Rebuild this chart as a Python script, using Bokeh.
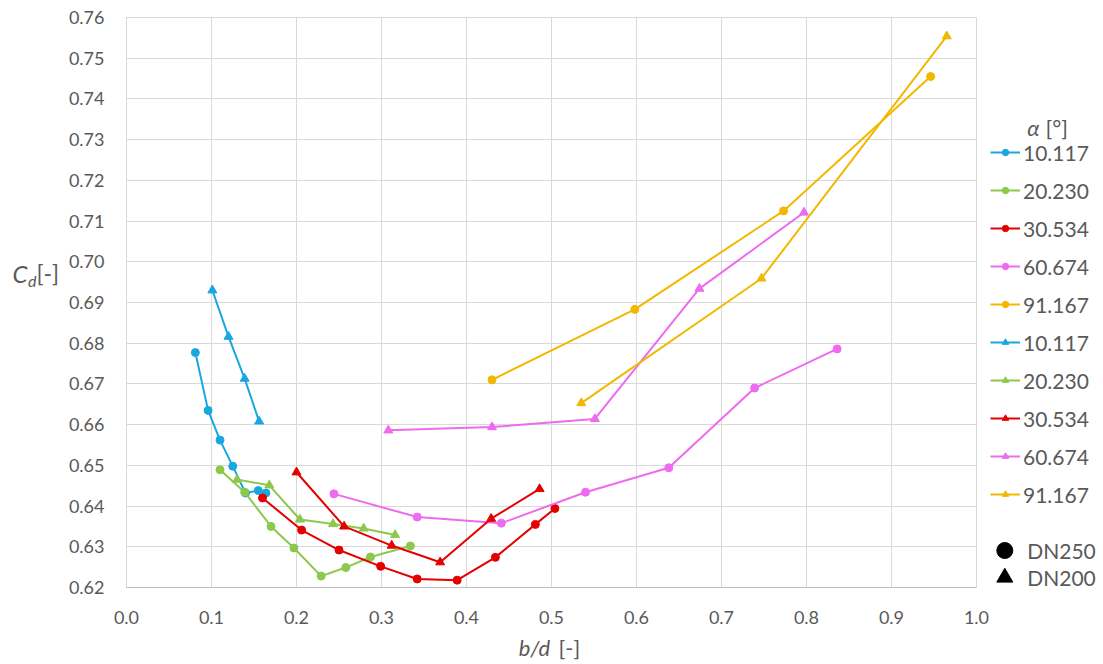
from bokeh.plotting import figure
from bokeh.models import Range1d, FixedTicker, PrintfTickFormatter, Legend, LegendItem, Label
from bokeh.layouts import row, column
from bokeh.embed import file_html
from bokeh.resources import INLINE

FONT = "Lato"
TXT = "#595959"

# ---------------- data ----------------
angles = ["10.117", "20.230", "30.534", "60.674", "91.167"]
colors = ["#19A7E0", "#8CC84B", "#E50000", "#EE6AEE", "#F2B800"]

x_ticks = [0.0, 0.1, 0.2, 0.3, 0.4, 0.5, 0.6, 0.7, 0.8, 0.9, 1.0]
y_ticks = [0.62, 0.63, 0.64, 0.65, 0.66, 0.67, 0.68, 0.69, 0.70,
           0.71, 0.72, 0.73, 0.74, 0.75, 0.76]

# DN250 (circles)
dn250_10_x = [0.081, 0.096, 0.110, 0.125, 0.140, 0.155, 0.164]
dn250_10_y = [0.6777, 0.6635, 0.6562, 0.6498, 0.6432, 0.6438, 0.6432]
dn250_20_x = [0.110, 0.139, 0.170, 0.197, 0.229, 0.258, 0.287, 0.334]
dn250_20_y = [0.6489, 0.6434, 0.6350, 0.6297, 0.6228, 0.6249, 0.6275, 0.6302]
dn250_30_x = [0.160, 0.206, 0.250, 0.299, 0.342, 0.389, 0.434, 0.481, 0.504]
dn250_30_y = [0.6420, 0.6341, 0.6292, 0.6252, 0.6221, 0.6218, 0.6274, 0.6355, 0.6394]
dn250_60_x = [0.244, 0.342, 0.441, 0.540, 0.638, 0.739, 0.836]
dn250_60_y = [0.6430, 0.6373, 0.6358, 0.6434, 0.6494, 0.6690, 0.6786]
dn250_91_x = [0.430, 0.598, 0.773, 0.946]
dn250_91_y = [0.6710, 0.6883, 0.7125, 0.7455]

# DN200 (triangles)
dn200_10_x = [0.101, 0.120, 0.139, 0.156]
dn200_10_y = [0.6930, 0.6816, 0.6713, 0.6608]
dn200_20_x = [0.130, 0.168, 0.204, 0.243, 0.279, 0.316]
dn200_20_y = [0.6465, 0.6451, 0.6367, 0.6356, 0.6345, 0.6329]
dn200_30_x = [0.200, 0.256, 0.312, 0.369, 0.429, 0.486]
dn200_30_y = [0.6483, 0.6350, 0.6303, 0.6262, 0.6369, 0.6442]
dn200_60_x = [0.308, 0.430, 0.551, 0.674, 0.797]
dn200_60_y = [0.6586, 0.6594, 0.6614, 0.6934, 0.7121]
dn200_91_x = [0.535, 0.747, 0.965]
dn200_91_y = [0.6653, 0.6959, 0.7554]

dn250 = [(dn250_10_x, dn250_10_y), (dn250_20_x, dn250_20_y), (dn250_30_x, dn250_30_y),
         (dn250_60_x, dn250_60_y), (dn250_91_x, dn250_91_y)]
dn200 = [(dn200_10_x, dn200_10_y), (dn200_20_x, dn200_20_y), (dn200_30_x, dn200_30_y),
         (dn200_60_x, dn200_60_y), (dn200_91_x, dn200_91_y)]

TOP_H = 633
BOT_H = 28
B_TOP = 17      # frame top (page px)
B_BOT = 46      # border below frame
FRAME_BOTTOM = TOP_H - B_BOT   # 587 page px

# ---------------- main figure ----------------
p = figure(width=930, height=TOP_H, output_backend="svg", toolbar_location=None,
           x_range=Range1d(0, 1), y_range=Range1d(0.62, 0.76),
           min_border_left=66, min_border_right=14, min_border_top=B_TOP,
           min_border_bottom=B_BOT)
p.background_fill_color = "white"
p.border_fill_color = "white"
p.outline_line_color = "#D9D9D9"

p.xaxis.ticker = FixedTicker(ticks=x_ticks)
p.yaxis.ticker = FixedTicker(ticks=y_ticks)
p.xaxis.formatter = PrintfTickFormatter(format="%.1f")
p.yaxis.formatter = PrintfTickFormatter(format="%.2f")
for ax in (p.xaxis, p.yaxis):
    ax.major_tick_line_color = None
    ax.minor_tick_line_color = None
    ax.major_tick_out = 0
    ax.major_tick_in = 0
    ax.major_label_text_font = FONT
    ax.major_label_text_font_size = "18px"
    ax.major_label_text_color = TXT
    ax.axis_label = None
p.xaxis.axis_line_color = "#BFBFBF"
p.yaxis.axis_line_color = "#D9D9D9"
p.xaxis.major_label_standoff = 23
p.yaxis.major_label_standoff = 22
p.xgrid.grid_line_color = "#D9D9D9"
p.ygrid.grid_line_color = "#D9D9D9"

for (xs, ys), c in zip(dn250, colors):
    p.line(xs, ys, line_color=c, line_width=2)
    p.scatter(xs, ys, marker="circle", size=8, fill_color=c, line_color=c)
for (xs, ys), c in zip(dn200, colors):
    p.line(xs, ys, line_color=c, line_width=2)
    p.scatter(xs, ys, marker="triangle", size=9, fill_color=c, line_color=c)


def side(w):
    """Side panel whose frame coincides vertically with the main frame;
    data y == TOP_H - page_y, data x == px from its left edge."""
    f = figure(width=w, height=TOP_H, output_backend="svg", toolbar_location=None,
               x_range=Range1d(0, w), y_range=Range1d(B_BOT, TOP_H - B_TOP),
               x_axis_type=None, y_axis_type=None,
               min_border_left=0, min_border_right=0,
               min_border_top=B_TOP, min_border_bottom=B_BOT)
    f.outline_line_color = None
    f.background_fill_color = "white"
    f.border_fill_color = "white"
    f.grid.visible = False
    return f


def lab(f, text, x, y, size, style="normal", color=TXT):
    f.add_layout(Label(text=text, x=x, y=y, text_font=FONT, text_font_size=size,
                       text_font_style=style, text_color=color,
                       text_baseline="middle", text_align="left"))


# ---------------- left: y axis label ----------------
left = side(60)
lab(left, "C", 12, TOP_H - 272.5, "24px", "italic")
lab(left, "d", 27.5, TOP_H - 279.5, "16px", "italic")
lab(left, "[-]", 36, TOP_H - 272.5, "23px")

# ---------------- right: legend ----------------
leg_f = side(110)
items = []
for marker, msize in (("circle", 8), ("triangle", 9)):
    for c, a in zip(colors, angles):
        # key-only renderers, placed outside the visible range
        lr = leg_f.line(x=[-50, -40], y=[-50, -50], line_color=c, line_width=2)
        sr = leg_f.scatter(x=[-50], y=[-50], marker=marker, size=msize,
                           fill_color=c, line_color=c)
        items.append(LegendItem(label=a, renderers=[lr, sr]))

leg = Legend(items=items, location=(0, FRAME_BOTTOM - 513), orientation="vertical",
             padding=0, margin=0, spacing=0, label_height=38, glyph_height=16,
             glyph_width=30, label_standoff=3, label_text_font=FONT,
             label_text_font_size="21px", label_text_color=TXT,
             border_line_color=None, background_fill_alpha=0)
leg_f.add_layout(leg)

# legend title
lab(leg_f, "α", 36.7, TOP_H - 126.7, "22px", "italic")
lab(leg_f, "[°]", 55, TOP_H - 126.7, "22px")

# DN keys
dn_labels = ["DN250", "DN200"]
dn_markers = ["circle", "triangle"]
dn_y = [TOP_H - 550, TOP_H - 577]
for lbl, mk, yy in zip(dn_labels, dn_markers, dn_y):
    leg_f.scatter(x=[14.3], y=[yy], marker=mk, size=16, fill_color="black", line_color="black")
    lab(leg_f, lbl, 36.7, yy, "21px")

# ---------------- bottom: x axis label ----------------
bottom = figure(width=1100, height=BOT_H, output_backend="svg", toolbar_location=None,
                x_range=Range1d(0, 1100), y_range=Range1d(0, BOT_H),
                x_axis_type=None, y_axis_type=None, min_border=0,
                min_border_left=0, min_border_right=0, min_border_top=0,
                min_border_bottom=0)
bottom.outline_line_color = None
bottom.border_fill_color = "white"
bottom.grid.visible = False
lab(bottom, "b/d", 518.3, BOT_H - 13.7, "22px", "italic")
lab(bottom, "[-]", 558, BOT_H - 13.7, "22px")

layout = column(row(left, p, leg_f), bottom)

open("out.html", "w").write(file_html(layout, INLINE))
